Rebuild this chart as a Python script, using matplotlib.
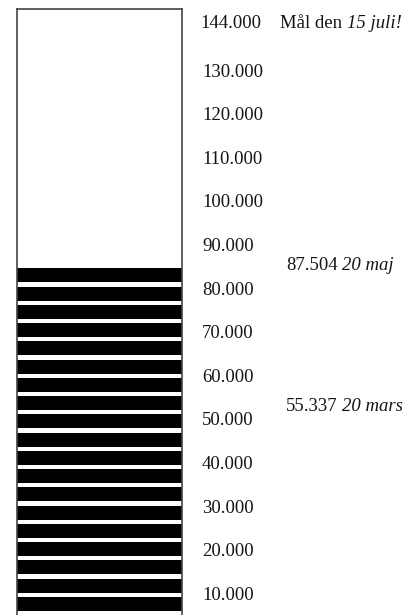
import matplotlib
matplotlib.use('Agg')

import matplotlib.pyplot as plt
import numpy as np


#-- data (thousands) --#
GOAL = 144.0
GOAL_TEXT = 'Mål den'
GOAL_DATE = '15 juli!'
TICKS = [10, 20, 30, 40, 50, 60, 70, 80, 90, 100, 110, 120, 130]
NOTE_VALUES = [87.504, 55.337]
NOTE_DATES = ['20 maj', '20 mars']
FILL_LEVEL = 84.5      # top of the striped fill as drawn
N_STRIPES = 19
Y_MIN = 5.0

TEXT_COLOR = '#151515'
FONT = 'Liberation Serif'
SIZE = 13.5

plt.rcParams['font.family'] = [FONT, 'DejaVu Serif']

fig = plt.figure(figsize=(4.04, 6.15), dpi=100)
ax = fig.add_axes([16.5 / 404, 0.0, 166 / 404, 606 / 615])

#-- striped fill --#
edges = np.linspace(Y_MIN, FILL_LEVEL, N_STRIPES + 1)
step = edges[1] - edges[0]
ax.bar(0.5, step * 0.77, bottom=edges[:-1] + step * 0.23, width=1.0,
       color='black', linewidth=0)

ax.set_xlim(0, 1)
ax.set_ylim(Y_MIN, GOAL)
ax.set_xticks([])
for side in ['top', 'left', 'right']:
	ax.spines[side].set_color('#444444')
	ax.spines[side].set_linewidth(1.2)
ax.spines['bottom'].set_visible(False)

#-- tick labels on the right --#
ax.yaxis.tick_right()
ax.set_yticks(TICKS)
ax.set_yticklabels(['%.3f' % t for t in TICKS])
ax.tick_params(axis='y', length=0, pad=14.0, labelsize=SIZE, labelcolor=TEXT_COLOR)

trans = ax.get_yaxis_transform()


def two_part(x, y, plain, italic, dy):
	t1 = ax.annotate(plain, xy=(x, y), xycoords=trans, xytext=(0, dy),
	                 textcoords='offset pixels', ha='left', va='top',
	                 fontsize=SIZE, color=TEXT_COLOR)
	fig.canvas.draw()
	w = t1.get_window_extent().width
	ax.annotate(italic, xy=(x, y), xycoords=trans, xytext=(w + 4.5, dy),
	            textcoords='offset pixels', ha='left', va='top',
	            fontsize=SIZE, color=TEXT_COLOR, style='italic')


#-- goal row --#
ax.annotate('%.3f' % GOAL, xy=((200.5 - 16.5) / 166, GOAL), xycoords=trans,
            xytext=(0, -6), textcoords='offset pixels', ha='left', va='top',
            fontsize=SIZE, color=TEXT_COLOR)
two_part((280 - 16.5) / 166, GOAL, GOAL_TEXT, GOAL_DATE, -6)

#-- notes --#
for v, d in zip(NOTE_VALUES, NOTE_DATES):
	two_part((286 - 16.5) / 166, v, '%.3f' % v, d, -2)

plt.savefig('out.png', dpi=100)
